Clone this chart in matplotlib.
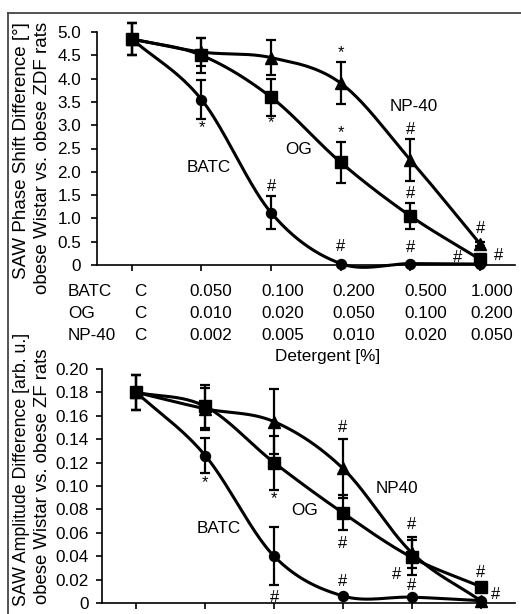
import numpy as np
import matplotlib
matplotlib.use('Agg')
import matplotlib.pyplot as plt
from matplotlib.lines import Line2D

plt.rcParams['font.family'] = ['Liberation Sans', 'DejaVu Sans']

# detergent concentrations [%] shown under the top panel
batc_conc = ['C', '0.050', '0.100', '0.200', '0.500', '1.000']
og_conc = ['C', '0.010', '0.020', '0.050', '0.100', '0.200']
np40_conc = ['C', '0.002', '0.005', '0.010', '0.020', '0.050']
row_names = ['BATC', 'OG', 'NP-40']

# SAW phase shift difference [deg]
phase_batc = [4.85, 3.55, 1.12, 0.03, 0.03, 0.02]
phase_batc_err = [0.35, 0.42, 0.35, 0.0, 0.0, 0.0]
phase_og = [4.85, 4.50, 3.60, 2.20, 1.05, 0.12]
phase_og_err = [0.35, 0.38, 0.40, 0.45, 0.27, 0.05]
phase_np40 = [4.85, 4.57, 4.45, 3.90, 2.25, 0.45]
phase_np40_err = [0.35, 0.30, 0.38, 0.45, 0.45, 0.05]

# SAW amplitude difference [arb. u.]
amp_batc = [0.180, 0.126, 0.040, 0.006, 0.005, 0.002]
amp_batc_err = [0.015, 0.015, 0.025, 0.0, 0.0, 0.0]
amp_og = [0.180, 0.168, 0.120, 0.077, 0.039, 0.014]
amp_og_err = [0.015, 0.018, 0.023, 0.015, 0.015, 0.0]
amp_np40 = [0.180, 0.166, 0.155, 0.115, 0.043, 0.002]
amp_np40_err = [0.015, 0.018, 0.028, 0.025, 0.013, 0.0]

# significance marks (x index, y value, symbol)
phase_marks = [(1, 2.94, '*'), (2, 3.05, '*'), (2, 1.68, '#'), (3, 4.55, '*'),
               (3, 2.83, '*'), (3, 0.39, '#'), (4, 2.90, '#'), (4, 1.54, '#'),
               (4, 0.37, '#'), (5, 0.79, '#'), (4.68, 0.17, '#'), (5.27, 0.21, '#')]
amp_marks = [(1, 0.103, '*'), (2, 0.089, '*'), (2, 0.005, '#'), (3, 0.150, '#'),
             (3, 0.051, '#'), (3, 0.018, '#'), (4, 0.067, '#'), (3.78, 0.024, '#'),
             (4, 0.015, '#'), (5, 0.026, '#'), (5.22, 0.007, '#')]

phase_ticks = [0, 0.5, 1.0, 1.5, 2.0, 2.5, 3.0, 3.5, 4.0, 4.5, 5.0]
phase_ticklabels = ['0', '0.5', '1.0', '1.5', '2.0', '2.5', '3.0', '3.5', '4.0', '4.5', '5.0']
amp_ticks = [0, 0.02, 0.04, 0.06, 0.08, 0.10, 0.12, 0.14, 0.16, 0.18, 0.20]
amp_ticklabels = ['0', '0.02', '0.04', '0.06', '0.08', '0.10', '0.12', '0.14', '0.16', '0.18', '0.20']

W, H = 521, 614
FS = 12.3


def smooth(y, n=40):
    # cubic hermite with central-difference slopes (like excel smoothed lines)
    y = np.asarray(y, float)
    m = np.gradient(y)
    t = np.linspace(0, 1, n)
    h00 = 2*t**3 - 3*t**2 + 1
    h10 = t**3 - 2*t**2 + t
    h01 = -2*t**3 + 3*t**2
    h11 = t**3 - t**2
    xs, ys = [], []
    for i in range(len(y) - 1):
        xs.append(i + t)
        ys.append(h00*y[i] + h10*m[i] + h01*y[i+1] + h11*m[i+1])
    return np.concatenate(xs), np.concatenate(ys)


def draw_panel(ax, series, marks, ylim, ticks, ticklabels, labels, pad):
    x = np.arange(6)
    for vals, errs, marker, ms in series:
        xs, ys = smooth(vals)
        ax.plot(xs, ys, color='black', lw=2.2, clip_on=False, zorder=2)
        errs = np.asarray(errs)
        keep = errs > 0
        ax.errorbar(x[keep], np.asarray(vals)[keep], yerr=errs[keep], fmt='none', ecolor='black',
                    elinewidth=1.6, capsize=3.8, capthick=1.6, clip_on=False, zorder=3)
        ax.plot(x, vals, linestyle='none', marker=marker, ms=ms, color='black', clip_on=False, zorder=4)
    for mx, my, s in marks:
        ax.text(mx, my, s, ha='center', va='center', fontsize=12)
    for lx, ly, s in labels:
        ax.text(lx, ly, s, ha='center', va='center', fontsize=FS)
    ax.set_xlim(-0.5, 5.5)
    ax.set_ylim(*ylim)
    ax.set_yticks(ticks)
    ax.set_yticklabels(ticklabels)
    ax.set_xticks(x)
    ax.set_xticklabels([])
    for side in ['top', 'right']:
        ax.spines[side].set_visible(False)
    for side in ['left', 'bottom']:
        ax.spines[side].set_linewidth(1.2)
    ax.tick_params(axis='both', direction='out', length=4.3, width=1.2, labelsize=FS)
    ax.tick_params(axis='y', pad=pad)


fig = plt.figure(figsize=(W/100, H/100), dpi=100)

ax1 = fig.add_axes([97/W, 1 - 265/H, (515 - 97)/W, (265 - 32)/H])
draw_panel(ax1,
           [(phase_batc, phase_batc_err, 'o', 7.2),
            (phase_np40, phase_np40_err, '^', 8.2),
            (phase_og, phase_og_err, 's', 8.4)],
           phase_marks, (0, 5), phase_ticks, phase_ticklabels,
           [(1.1, 2.1, 'BATC'), (2.4, 2.47, 'OG'), (4.04, 3.41, 'NP-40')], pad=7)

ax2 = fig.add_axes([102/W, 1 - 603/H, (515 - 102)/W, (603 - 369)/H])
draw_panel(ax2,
           [(amp_batc, amp_batc_err, 'o', 7.2),
            (amp_np40, amp_np40_err, '^', 8.2),
            (amp_og, amp_og_err, 's', 8.4)],
           amp_marks, (0, 0.2), amp_ticks, amp_ticklabels,
           [(1.2, 0.064, 'BATC'), (2.45, 0.079, 'OG'), (3.79, 0.098, 'NP40')], pad=5)

# concentration table under the top panel
col_x = [140, 211, 283, 354, 426, 492]
row_y = [292, 313, 335]
for name, conc, ry in zip(row_names, [batc_conc, og_conc, np40_conc], row_y):
    fig.text(68/W, 1 - ry/H, name, ha='left', va='center', fontsize=FS)
    for cx, c in zip(col_x, conc):
        fig.text(cx/W, 1 - ry/H, c, ha='center', va='center', fontsize=FS)
fig.text(328/W, 1 - 357/H, 'Detergent [%]', ha='center', va='center', fontsize=FS)

# y axis titles
fig.text(22/W, 1 - 22/H, 'SAW Phase Shift Difference [°]', rotation=90, ha='center', va='top', fontsize=13.5)
fig.text(43/W, 1 - 22/H, 'obese Wistar vs. obese ZDF rats', rotation=90, ha='center', va='top', fontsize=13.5)
fig.text(22/W, 1 - 333/H, 'SAW Amplitude Difference [arb. u.]', rotation=90, ha='center', va='top', fontsize=12.8)
fig.text(43/W, 1 - 348/H, 'obese Wistar vs. obese ZF rats', rotation=90, ha='center', va='top', fontsize=13.3)

# outer frame (top and left edges only)
fig.add_artist(Line2D([8/W, 8/W], [0, 1 - 13/H], transform=fig.transFigure, color='#444444', lw=1.3))
fig.add_artist(Line2D([8/W, 1], [1 - 13/H, 1 - 13/H], transform=fig.transFigure, color='#444444', lw=1.3))

fig.savefig('out.png', dpi=100)
